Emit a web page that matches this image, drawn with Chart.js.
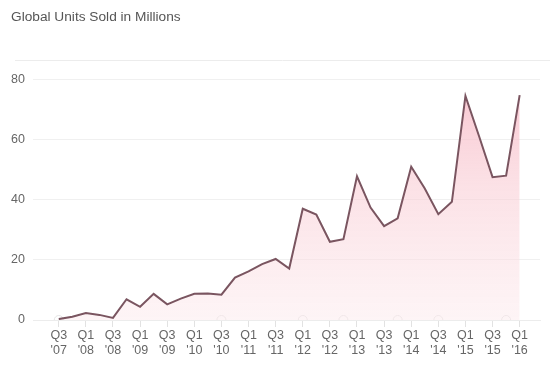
<!DOCTYPE html>
<html>
<head>
<meta charset="utf-8">
<script src="https://cdn.jsdelivr.net/npm/chart.js@4"></script>
<style>
  html, body { margin: 0; padding: 0; background: #fff; }
  #wrap { width: 550px; height: 373px; }
</style>
</head>
<body>
<div id="wrap"><canvas id="units"></canvas></div>
<script>
// quarters from Q3 '07 to Q1 '16
const quarters = [
  ['Q3', "'07"], ['Q4', "'07"],
  ['Q1', "'08"], ['Q2', "'08"], ['Q3', "'08"], ['Q4', "'08"],
  ['Q1', "'09"], ['Q2', "'09"], ['Q3', "'09"], ['Q4', "'09"],
  ['Q1', "'10"], ['Q2', "'10"], ['Q3', "'10"], ['Q4', "'10"],
  ['Q1', "'11"], ['Q2', "'11"], ['Q3', "'11"], ['Q4', "'11"],
  ['Q1', "'12"], ['Q2', "'12"], ['Q3', "'12"], ['Q4', "'12"],
  ['Q1', "'13"], ['Q2', "'13"], ['Q3', "'13"], ['Q4', "'13"],
  ['Q1', "'14"], ['Q2', "'14"], ['Q3', "'14"], ['Q4', "'14"],
  ['Q1', "'15"], ['Q2', "'15"], ['Q3', "'15"], ['Q4', "'15"],
  ['Q1', "'16"]
];

// units sold, millions
const unitsSold = [
  0.3, 1.1,
  2.3, 1.7, 0.7, 6.9,
  4.4, 8.7, 5.2, 7.1,
  8.7, 8.8, 8.4, 14.1,
  16.2, 18.6, 20.3, 17.1,
  37.0, 35.1, 26.0, 26.9,
  47.8, 37.4, 31.2, 33.8,
  51.0, 43.7, 35.2, 39.3,
  74.5, 61.2, 47.5, 48.0,
  74.8
];

// faint markers sitting on the zero line
const markerQuarters = [0, 12, 18, 21, 25, 28, 33];

const yTicks = [0, 20, 40, 60, 80];

// separator under the title
const headerLine = {
  id: 'headerLine',
  beforeDraw(chart) {
    const ctx = chart.ctx;
    ctx.save();
    ctx.strokeStyle = '#ececec';
    ctx.lineWidth = 1;
    ctx.beginPath();
    ctx.moveTo(15, 60.5);
    ctx.lineTo(550, 60.5);
    ctx.stroke();
    ctx.restore();
  }
};

function pinkFill(context) {
  const chart = context.chart;
  const area = chart.chartArea;
  if (!area) return 'rgba(248,200,208,0.4)';
  const g = chart.ctx.createLinearGradient(0, area.top, 0, area.bottom);
  g.addColorStop(0, 'rgba(246,178,192,0.75)');
  g.addColorStop(0.45, 'rgba(249,204,212,0.58)');
  g.addColorStop(1, 'rgba(252,234,237,0.5)');
  return g;
}

const ctx = document.getElementById('units').getContext('2d');
new Chart(ctx, {
  type: 'line',
  data: {
    datasets: [{
      label: 'Units',
      data: unitsSold.map((v, i) => ({ x: i, y: v })),
      borderColor: '#7a5560',
      borderWidth: 2,
      backgroundColor: pinkFill,
      fill: 'origin',
      tension: 0,
      pointRadius: 0,
      pointHoverRadius: 0
    }, {
      label: 'Markers',
      data: markerQuarters.map(i => ({ x: i, y: 0 })),
      showLine: false,
      pointRadius: 4.5,
      pointBackgroundColor: '#ffffff',
      pointBorderColor: '#e4e4e4',
      pointBorderWidth: 1
    }]
  },
  options: {
    responsive: true,
    maintainAspectRatio: false,
    animation: false,
    layout: { padding: { left: 11, right: 10, top: 0, bottom: 0 } },
    scales: {
      x: {
        type: 'linear',
        min: -1.9,
        max: 35.5,
        afterBuildTicks(scale) {
          scale.ticks = quarters.map((q, i) => ({ value: i }));
        },
        afterFit(scale) { scale.height = 53; },
        grid: {
          drawOnChartArea: false,
          drawTicks: true,
          tickLength: 7,
          tickColor: '#e2e2e2'
        },
        border: { display: true, color: '#ececec' },
        ticks: {
          autoSkip: false,
          maxRotation: 0,
          padding: 1,
          color: '#666',
          font: { family: 'Liberation Sans, Arial, sans-serif', size: 12.5 },
          callback: function(value) {
            if (!Number.isInteger(value) || value % 2 !== 0) return null;
            return quarters[value];
          }
        }
      },
      y: {
        min: 0,
        max: 80,
        afterBuildTicks(scale) {
          scale.ticks = yTicks.map(v => ({ value: v }));
        },
        afterFit(scale) { scale.width = 22; },
        grid: { color: '#f0f0f0', drawTicks: false },
        border: { display: false },
        ticks: {
          padding: 8,
          color: '#666',
          font: { family: 'Liberation Sans, Arial, sans-serif', size: 12.5 }
        }
      }
    },
    plugins: {
      legend: { display: false },
      tooltip: { enabled: false },
      title: {
        display: true,
        text: 'Global Units Sold in Millions',
        align: 'start',
        color: '#555',
        font: { family: 'Liberation Sans, Arial, sans-serif', size: 13.7, weight: 'normal' },
        padding: { top: 9, bottom: 54 }
      }
    }
  },
  plugins: [headerLine]
});
</script>
</body>
</html>
